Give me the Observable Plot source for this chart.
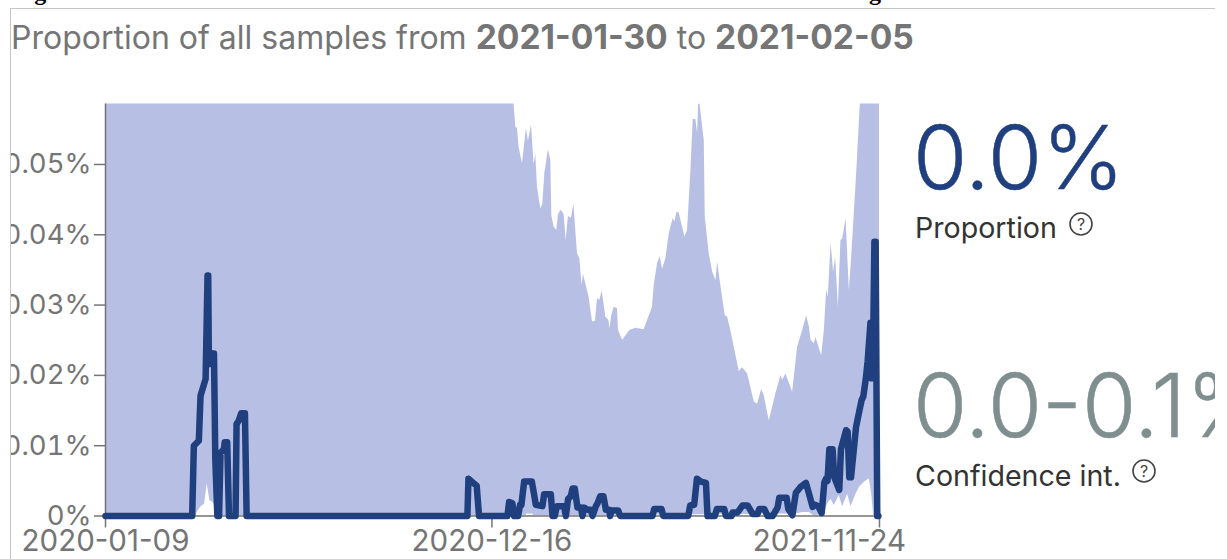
<!DOCTYPE html>
<html><head><meta charset="utf-8">
<script src="https://cdn.jsdelivr.net/npm/d3@7"></script>
<script src="https://cdn.jsdelivr.net/npm/@observablehq/plot@0.6"></script>
<style>
html,body{margin:0;padding:0;background:#fff;width:1227px;height:559px;overflow:hidden;font-family:Inter,sans-serif}
.t{position:absolute;white-space:nowrap;line-height:1}
#card{position:absolute;left:10px;top:8px;width:1205px;height:551px;border-top:1.5px solid #c6c6c6;border-left:1.5px solid #c6c6c6;overflow:hidden;box-sizing:border-box}
#plot{position:absolute;left:-11.5px;top:-9.5px}
#plot svg{display:block}
.fig{font:bold 24px "Liberation Serif",serif;color:#000;top:-21px}
.title{left:0px;top:10.5px;font-size:32px;color:#757575}
.title b{font-weight:700;font-size:33.6px}
.big{font-weight:300;font-size:88px;-webkit-text-stroke:.5px currentColor}
.lab{font-size:28.6px;color:#333}
.help{position:absolute}
</style></head><body>
<div class="t fig" style="left:13px">Figure</div>
<div class="t fig" style="left:869px">g</div>
<div id="card">
  <div id="plot"></div>
  <div class="t title">Proportion of all samples from <b>2021-01-30</b> to <b>2021-02-05</b></div>
  <div class="t big" style="left:902px;top:104px;color:#1f3f7e">0.0%</div>
  <div class="t lab" style="left:904px;top:205px">Proportion</div>
  <svg class="help" style="left:1057px;top:202px" width="26" height="26"><circle cx="13" cy="13" r="11" fill="none" stroke="#444" stroke-width="1.6"/><text x="13" y="19" text-anchor="middle" font-size="16" fill="#444" font-family="Inter">?</text></svg>
  <div class="t big" style="left:902px;top:352px;color:#7f8e8f">0.0-0.1%</div>
  <div class="t lab" style="left:904px;top:453px">Confidence int.</div>
  <svg class="help" style="left:1120px;top:449px" width="26" height="26"><circle cx="13" cy="13" r="11" fill="none" stroke="#444" stroke-width="1.6"/><text x="13" y="19" text-anchor="middle" font-size="16" fill="#444" font-family="Inter">?</text></svg>
</div>
<script>
// days since 2020-01-09, values in thousandths of a percent
const startDate = "2020-01-09";
const xTickDates = ["2020-01-09", "2020-12-16"];
const xTickLastDate = "2021-11-24";
const yTickValues = [0, 0.01, 0.02, 0.03, 0.04, 0.05];
const yTop = 0.0586;

const upperDays = [0,361.5,361.6,363.1,364.6,366,369,372.5,374.3,377,379.3,380.8,382.3,385.2,387,388.8,392,394.1,395,397,399.4,400.9,403.2,405.9,407.7,409.7,412.4,414.5,417.7,419.8,421.8,423,428,431,433.6,435.4,437.5,439.6,442.8,445.5,446.6,447.8,450.2,453.1,454,457.6,464.1,469.4,476.7,479.7,484.1,485.6,488.6,490.9,493,495.9,498.9,502.4,503.9,505.7,507.7,512.8,515.1,518.1,520.1,522.5,524,524.9,526.1,529.9,530.8,534.3,537.3,540.2,541.7,545.2,548.5,550.6,553.5,560.9,563.8,568.3,574.2,577.1,580.7,583,587.4,593.3,597.8,599.3,602.2,608.1,612.5,617,620.5,622.9,624.4,627.3,628.8,633.8,636.2,638.2,639.7,642.1,644.4,646.2,648.6,650.9,652.4,655.4,658.3,659.8,661.8,665.1,668,670,685];
const upperValues = [70,70,58.6,55.3,55.1,52.5,50.1,55.1,53.3,55.6,50,51.5,46.8,43.7,44.3,48.7,52.1,50.6,42.7,41.1,40.6,42.9,43.5,42.9,39.2,42.6,42.3,44.4,37.3,36.6,32.8,34.4,31.1,27.6,27.7,30.9,30.7,32,28.3,27.8,26.6,28.3,29.7,29.5,26.4,25,26.4,26.7,26.5,27.8,29.7,32.8,35.9,36.9,35.1,36.6,40.1,42.3,41.8,43.2,43.1,39.7,40.6,49.1,56.4,56.4,54.4,58.6,58.6,53.4,42.5,37.3,34.7,33.5,36.1,32.1,28.5,28.3,26.3,20.5,21.1,20.2,16.2,15.9,18,17.1,13.5,17.4,20,19.3,20.2,17.6,24,26.4,28.5,26.9,25,24.5,25.4,22.8,26.4,32.1,31.1,38.8,34.7,36.8,29.7,39.2,39.4,42.3,32.1,35.4,40.6,49.6,58.6,70,70];

const lowerDays = [0,80,81.2,84.1,87.7,90,92.4,95.9,97.4,98,111,112,114,115,372,373,378,379,611,617,623,627,636.2,639.1,642.1,645,649.4,652.4,656.8,659.8,664.2,667.2,671.6,676,678.1,679.9,685];
const lowerValues = [0,0,0.5,1.25,1.7,4.6,2.2,1.8,0.3,0,0,0.3,0.3,0,0,0.3,0.3,0,0.3,0.5,0.5,0,0.3,1.7,2.4,1.5,2.9,1.3,3.1,1.3,3.1,4.1,4.8,5.3,3.1,0,0];

const lineDays = [0,76.7,78.2,82.6,84.1,88.6,90.3,90.9,91.5,93,96,97.2,99,100.5,101.8,104.8,105.5,107.7,109.3,115.1,116,118,120.1,123.4,124.9,320.3,321.2,324.7,328.5,330.6,355.7,357.2,360.1,361.6,365.2,366.9,368.1,370.5,377.3,379.3,380.8,386.7,388.2,394.1,395.6,397.6,399.4,405.9,407.4,409.4,411.8,413.3,415.3,417.7,420.7,422.1,423.6,426.6,429.5,431,434,435.4,437.8,440.7,442.8,445.8,446.6,447.8,453.7,455.5,484.1,485.6,492.1,493.6,515.7,517.5,521,523.4,526.9,531.4,532.8,539.3,541.1,547.6,549.1,554.1,555,559.4,563.8,568.3,572.7,577.1,578.6,583,586,590.4,594.8,596.3,602.8,604.3,607.9,611,614.9,619.9,622.9,625.8,627.9,630.8,633.8,636.2,637.6,639,640.6,643.5,645,649.4,650.9,655.4,656.8,658.3,659.8,664.2,667.2,669.2,670.7,673,674.5,677,677.5,679,680.5,681.6,683,684];
const lineValues = [0,0,10,10.7,17.1,19.5,34.2,34.2,21.6,23.1,23.1,8,0,0,9,9.5,10.5,10.5,0,0,13.1,13.6,14.6,14.6,0,0,5.3,4.8,4.3,0,0,2,1.8,0,0,1.6,1.6,4.9,4.9,3.1,1.6,1.4,3.1,3.1,0,0,1.4,1.4,0,2.4,2.8,3.9,3.9,1.2,1.2,0,1.2,0.9,0.9,0,1.4,1.8,2.8,2.8,0.9,0.9,0,0.8,0.8,0,0,1,1,0,0,1.5,1.6,5.3,4.9,4.7,0,0,1,1,0,0,0.5,0.5,1.5,1.5,0.3,0.3,1,1,0,0,1.2,2.6,2.6,1,0.1,3.3,4.1,4.7,3,1.3,1.6,1.4,0.4,4.8,5.3,5,9.5,9.5,5.5,3.7,9.5,12.2,12,5.5,5.5,12.6,15,16.5,17,19.7,22,27.5,19.6,19.6,39,39,0,0];

const toDate = d => new Date(+new Date(startDate + "T00:00:00Z") + d * 864e5);
const parse = s => new Date(s + "T00:00:00Z");
const zip = (ds, vs) => ds.map((d, i) => ({date: toDate(d), value: vs[i] / 1000}));
const upper = zip(upperDays, upperValues);
const lower = zip(lowerDays, lowerValues);
const line = zip(lineDays, lineValues);

const axisColor = "#757575";
const textColor = "#757575";
const bandColor = "#b7bfe5";
const lineColor = "#1f3f7e";

const chart = Plot.plot({
  width: 910, height: 559,
  marginLeft: 105, marginRight: 31, marginTop: 103.5, marginBottom: 43.5,
  style: {background: "transparent", overflow: "visible", fontFamily: "Inter,sans-serif"},
  x: {type: "utc", domain: [parse(startDate), parse(xTickLastDate)]},
  y: {domain: [0, yTop]},
  marks: [
    Plot.areaY(upper, {x: "date", y: "value", fill: bandColor, clip: true}),
    Plot.areaY(lower, {x: "date", y: "value", fill: "#fff", clip: true}),
    Plot.ruleX([parse(startDate)], {stroke: axisColor, strokeWidth: 1.5}),
    Plot.ruleY([0], {stroke: axisColor, strokeWidth: 1.5}),
    Plot.axisY({ticks: yTickValues, tickSize: 11, tickPadding: 3, stroke: axisColor, strokeWidth: 1.5, fontSize: 27.5, fill: textColor, label: null, tickFormat: d => d + "%"}),
    Plot.axisX({ticks: [...xTickDates, xTickLastDate].map(parse), tickSize: 12, stroke: axisColor, strokeWidth: 1.5, label: null, tickFormat: () => ""}),
    Plot.text(xTickDates, {x: parse, y: 0, text: d => d, dy: 26, fontSize: 29.5, fill: textColor}),
    Plot.text([xTickLastDate], {x: parse, y: 0, text: d => d, dy: 26, dx: -50, fontSize: 29.5, fill: textColor}),
    Plot.line(line, {x: "date", y: "value", stroke: lineColor, strokeWidth: 6.5, strokeLinejoin: "round", strokeLinecap: "round", curve: "linear"})
  ]
});
document.getElementById("plot").append(chart);
</script>
</body></html>
